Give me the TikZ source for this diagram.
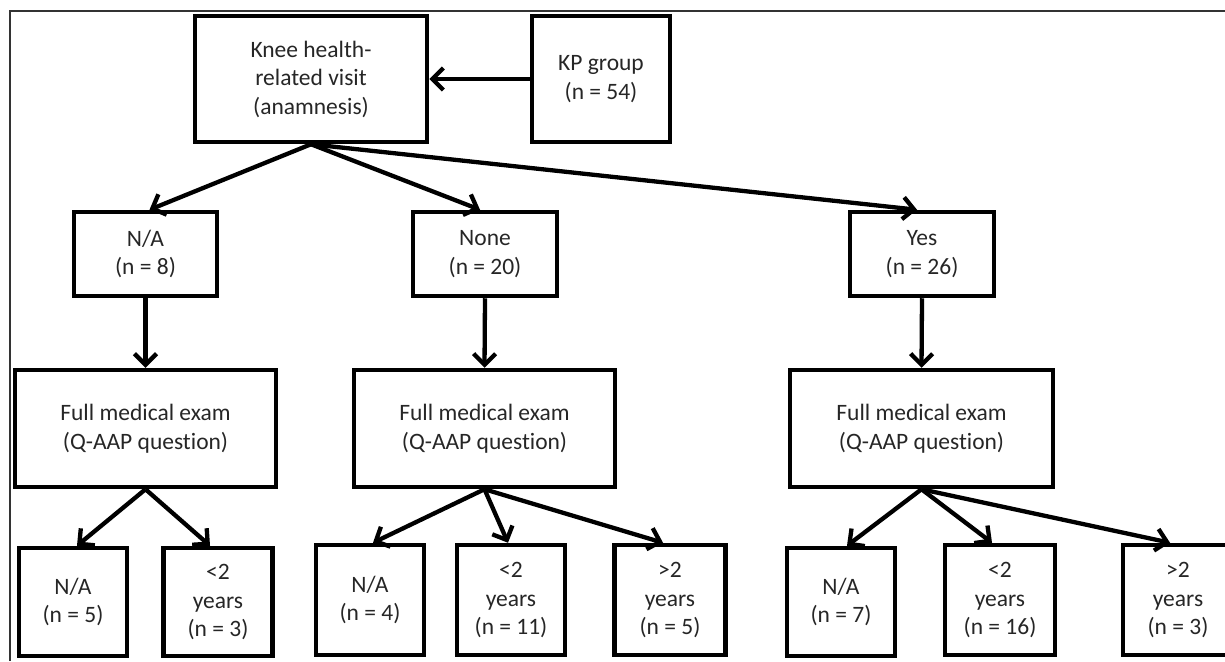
\documentclass[tikz,border=0pt]{standalone}
\usepackage{fontspec}
\setmainfont{Carlito}[Ligatures={NoCommon}]
\usetikzlibrary{arrows.meta,calc}
\newcommand{\fsz}{\fontsize{23.5}{28.5}\selectfont}
\begin{document}
\begin{tikzpicture}[x=1pt,y=-1pt,
  box/.style={draw, line width=4.5pt, align=center, inner sep=0pt, font=\fsz, text=black!85},
  arr/.style={line width=4.3pt, -{Straight Barb[length=11pt,width=22pt]}}]
\useasboundingbox (0,0) rectangle (1225,661);
\clip (0,0) rectangle (1225,661);
% frame
\draw[line width=1.2pt, black!80] (10,661) -- (10,11) -- (1226,11);
% top row
\node[box, minimum width=232pt, minimum height=126pt] (knee) at (311,79) {Knee health-\\related visit\\(anamnesis)};
\node[box, minimum width=138pt, minimum height=126pt] (kp) at (601,79) {KP group\\(n = 54)};
% second row
\node[box, minimum width=143pt, minimum height=84pt] (na) at (145.5,254) {N/A\\(n = 8)};
\node[box, minimum width=144pt, minimum height=84pt] (none) at (485,254) {None\\(n = 20)};
\node[box, minimum width=144pt, minimum height=84pt] (yes) at (922,254) {Yes\\(n = 26)};
% full exams
\node[box, minimum width=261pt, minimum height=117pt] (f1) at (145.5,428.5) {Full medical exam\\(Q-AAP question)};
\node[box, minimum width=261pt, minimum height=117pt] (f2) at (484.5,428.5) {Full medical exam\\(Q-AAP question)};
\node[box, minimum width=263pt, minimum height=117pt] (f3) at (921.5,428.5) {Full medical exam\\(Q-AAP question)};
% bottom row
\node[box, minimum width=108pt, minimum height=108pt] (a1) at (73,602) {N/A\\(n = 5)};
\node[box, minimum width=109pt, minimum height=108pt] (a2) at (218,602) {<2\\years\\(n = 3)};
\node[box, minimum width=108pt, minimum height=110pt] (b1) at (370,600) {N/A\\(n = 4)};
\node[box, minimum width=108pt, minimum height=110pt] (b2) at (511,600) {<2\\years\\(n = 11)};
\node[box, minimum width=111pt, minimum height=110pt] (b3) at (670,600) {>2\\years\\(n = 5)};
\node[box, minimum width=108pt, minimum height=108pt] (c1) at (841,602) {N/A\\(n = 7)};
\node[box, minimum width=110pt, minimum height=110pt] (c2) at (1000,600) {<2\\years\\(n = 16)};
\node[box, minimum width=110pt, minimum height=110pt] (c3) at (1178,600) {>2\\years\\(n = 3)};
% connectors
\draw[arr] (kp.west) -- (knee.east);
\draw[arr] (knee.south) -- ($(na.north)+(4,0)$);
\draw[arr] (knee.south) -- ($(none.north)+(-5,0)$);
\draw[arr] (knee.south) -- ($(yes.north)+(-5,0)$);
\draw[arr] (na.south) -- (f1.north);
\draw[arr] (none.south) -- (f2.north);
\draw[arr] (yes.south) -- (f3.north);
\draw[arr] (f1.south) -- ($(a1.north)+(4,0)$);
\draw[arr] (f1.south) -- ($(a2.north)+(-8,0)$);
\draw[arr] (f2.south) -- ($(b1.north)+(3,0)$);
\draw[arr] (f2.south) -- ($(b2.north)+(-3,0)$);
\draw[arr] (f2.south) -- ($(b3.north)+(-7,0)$);
\draw[arr] (f3.south) -- ($(c1.north)+(6,0)$);
\draw[arr] (f3.south) -- ($(c2.north)+(-8,0)$);
\draw[arr] (f3.south) -- ($(c3.north)+(-8,0)$);
\end{tikzpicture}
\end{document}
